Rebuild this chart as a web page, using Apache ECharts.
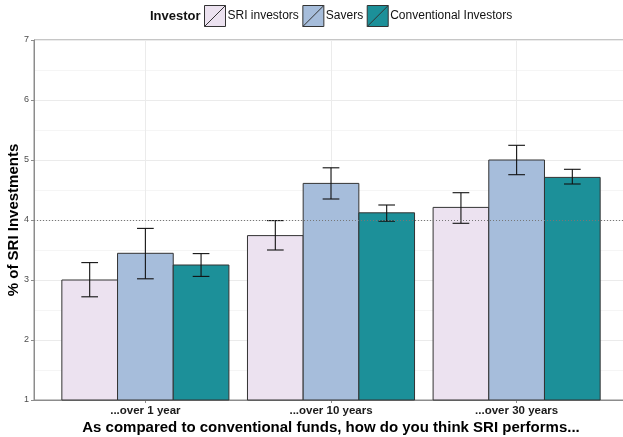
<!DOCTYPE html>
<html>
<head>
<meta charset="utf-8">
<script src="https://cdn.jsdelivr.net/npm/echarts@6/dist/echarts.min.js"></script>
<style>
  html, body { margin: 0; padding: 0; background: #ffffff; }
  #chart { width: 623px; height: 437px; }
</style>
</head>
<body>
<div id="chart"></div>
<script>
// Survey answers: perceived SRI performance by horizon and investor group
const categories = ['...over 1 year', '...over 10 years', '...over 30 years'];
const groupNames = ['SRI investors', 'Savers', 'Conventional Investors'];

const sriMean = [3.00, 3.74, 4.21];
const sriLow = [2.72, 3.50, 3.945];
const sriHigh = [3.29, 3.99, 4.455];

const saversMean = [3.445, 4.61, 5.00];
const saversLow = [3.02, 4.35, 4.755];
const saversHigh = [3.86, 4.87, 5.245];

const convMean = [3.25, 4.12, 4.71];
const convLow = [3.06, 3.98, 4.60];
const convHigh = [3.44, 4.25, 4.845];

const referenceLevel = 4;
const groupColors = ['#ECE2F0', '#A6BDDB', '#1C9099'];

const FONT = '"Liberation Sans", Arial, Helvetica, sans-serif';
const DODGE = 0.3;      // bar width in category units
const CAP = 0.045;      // half width of error bar caps

function rows(mean, low, high) {
  return categories.map((_, i) => [i + 1, mean[i], low[i], high[i]]);
}

function makeRender(offset) {
  return function (params, api) {
    const x = api.value(0) + offset;
    const mean = api.value(1);
    const lo = api.value(2);
    const hi = api.value(3);
    const tl = api.coord([x - DODGE / 2, mean]);
    const br = api.coord([x + DODGE / 2, 1]);
    const top = api.coord([x, hi]);
    const bot = api.coord([x, lo]);
    const capL = api.coord([x - CAP, hi])[0];
    const capR = api.coord([x + CAP, hi])[0];
    const errStyle = { stroke: '#111111', lineWidth: 1.1 };
    return {
      type: 'group',
      children: [
        {
          type: 'rect',
          shape: { x: tl[0], y: tl[1], width: br[0] - tl[0], height: br[1] - tl[1] },
          style: { fill: api.visual('color'), stroke: '#333333', lineWidth: 1 }
        },
        { type: 'line', shape: { x1: top[0], y1: top[1], x2: bot[0], y2: bot[1] }, style: errStyle },
        { type: 'line', shape: { x1: capL, y1: top[1], x2: capR, y2: top[1] }, style: errStyle },
        { type: 'line', shape: { x1: capL, y1: bot[1], x2: capR, y2: bot[1] }, style: errStyle }
      ]
    };
  };
}

const keyIcon = 'path://M0,0L20,0L20,20L0,20Z M0,20L20,0';

const chart = echarts.init(document.getElementById('chart'), null, { renderer: 'canvas' });

chart.setOption({
  animation: false,
  backgroundColor: '#ffffff',
  textStyle: { fontFamily: FONT },
  title: {
    text: 'Investor',
    left: 150,
    top: 10,
    padding: 0,
    textStyle: { fontFamily: FONT, fontSize: 13, fontWeight: 'bold', color: '#111111' }
  },
  legend: {
    left: 204,
    top: 5,
    padding: 0,
    itemWidth: 21,
    itemHeight: 21,
    itemGap: 3.5,
    selectedMode: false,
    textStyle: { fontFamily: FONT, fontSize: 12, color: '#111111', padding: [0, 0, 0, -3] },
    itemStyle: { borderColor: '#333333', borderWidth: 1 },
    data: groupNames.map(n => ({ name: n, icon: keyIcon }))
  },
  grid: {
    left: 34,
    width: 594,
    top: 40,
    bottom: 37,
    containLabel: false,
    outerBoundsMode: 'none',
    show: true,
    borderColor: '#8c8c8c',
    borderWidth: 1,
    backgroundColor: 'transparent'
  },
  xAxis: {
    type: 'value',
    min: 0.4,
    max: 3.6,
    name: 'As compared to conventional funds, how do you think SRI performs...',
    nameLocation: 'middle',
    nameGap: 20,
    nameMoveOverlap: false,
    nameTextStyle: { fontFamily: FONT, fontSize: 15, fontWeight: 'bold', color: '#000000', verticalAlign: 'top' },
    axisLine: { show: true, lineStyle: { color: '#8c8c8c', width: 1 } },
    axisTick: { show: true, length: 3, customValues: [1, 2, 3], lineStyle: { color: '#8c8c8c' } },
    axisLabel: {
      customValues: [1, 2, 3],
      margin: 5,
      fontFamily: FONT,
      fontSize: 11.5,
      fontWeight: 'bold',
      color: '#1a1a1a',
      formatter: v => categories[Math.round(v) - 1] || ''
    },
    splitLine: { show: true, lineStyle: { color: '#ebebeb', width: 1 } }
  },
  yAxis: {
    type: 'value',
    min: 1,
    max: 7,
    interval: 1,
    name: '% of SRI Investments',
    nameLocation: 'middle',
    nameGap: 13,
    nameMoveOverlap: false,
    nameTextStyle: { fontFamily: FONT, fontSize: 15, fontWeight: 'bold', color: '#000000' },
    axisLine: { show: true, lineStyle: { color: '#8c8c8c', width: 1 } },
    axisTick: { show: true, length: 3, lineStyle: { color: '#8c8c8c' } },
    axisLabel: { margin: 5, fontFamily: FONT, fontSize: 9, color: '#4d4d4d' },
    splitLine: { show: true, lineStyle: { color: '#ebebeb', width: 1 } },
    minorTick: { show: false, splitNumber: 2 },
    minorSplitLine: { show: true, lineStyle: { color: '#f5f5f5', width: 1 } }
  },
  series: [
    {
      name: groupNames[0],
      type: 'custom',
      color: groupColors[0],
      renderItem: makeRender(-DODGE),
      encode: { x: 0, y: 1 },
      data: rows(sriMean, sriLow, sriHigh)
    },
    {
      name: groupNames[1],
      type: 'custom',
      color: groupColors[1],
      renderItem: makeRender(0),
      encode: { x: 0, y: 1 },
      data: rows(saversMean, saversLow, saversHigh)
    },
    {
      name: groupNames[2],
      type: 'custom',
      color: groupColors[2],
      renderItem: makeRender(DODGE),
      encode: { x: 0, y: 1 },
      data: rows(convMean, convLow, convHigh),
      markLine: {
        silent: true,
        symbol: ['none', 'none'],
        label: { show: false },
        lineStyle: { type: [1, 2], color: '#777777', width: 1 },
        data: [{ yAxis: referenceLevel }]
      }
    }
  ]
});
</script>
</body>
</html>
